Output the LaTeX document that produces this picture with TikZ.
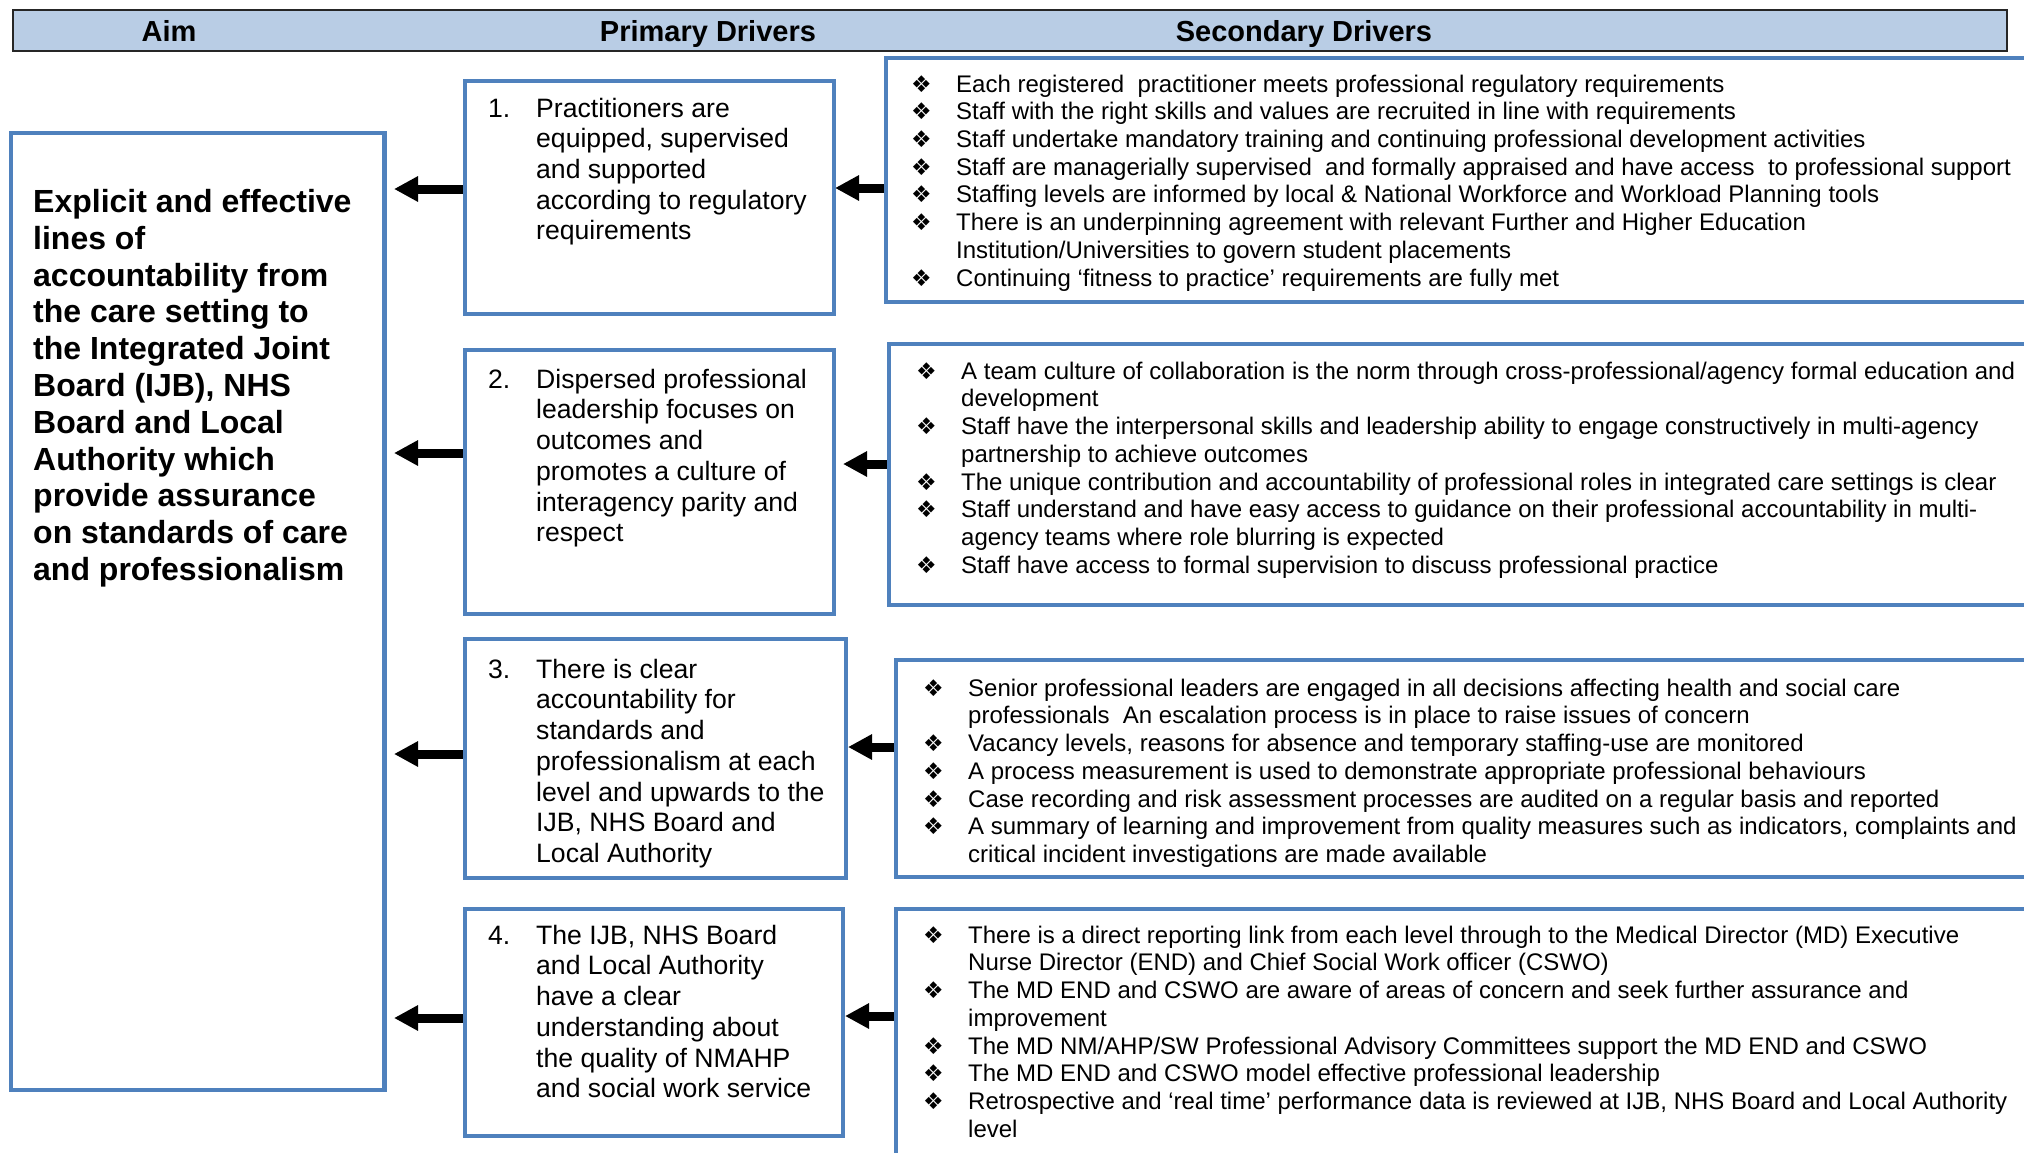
\documentclass[tikz,border=0pt]{standalone}
\usepackage{fontspec}
\setmainfont{Liberation Sans}
\newfontfamily\dvsans{DejaVu Sans}
\usetikzlibrary{arrows.meta,calc}
\definecolor{boxblue}{HTML}{4F81BD}
\definecolor{headfill}{HTML}{B9CDE5}
\newcommand{\bul}{\makebox[45pt][l]{\dvsans\fontsize{23}{23}\selectfont ❖}}
\newcommand{\cont}{\hspace*{45pt}}
\newcommand{\pnum}[1]{\makebox[48pt][l]{#1}}
\newcommand{\pcont}{\hspace*{48pt}}
\pgfdeclarelayer{bg}
\pgfsetlayers{bg,main}
\begin{document}
\begin{tikzpicture}[x=1pt,y=-1pt,
  bluebox/.style={draw=boxblue, line width=4.5pt, fill=white, rectangle, inner sep=0pt, outer sep=0pt, anchor=north west},
  sectext/.style={anchor=north west, inner sep=0pt, align=left, font=\fontsize{24}{27.7}\selectfont},
  primtext/.style={anchor=north west, inner sep=0pt, align=left, font=\fontsize{26.6}{30.7}\selectfont},
  aimtext/.style={anchor=north west, inner sep=0pt, align=left, font=\bfseries\fontsize{32}{36.8}\selectfont},
  headtext/.style={anchor=base, inner sep=0pt, font=\bfseries\fontsize{29}{34}\selectfont},
  arr/.style={line width=9pt, -{Triangle[length=24pt,width=24pt]}},
]
\useasboundingbox (0,0) rectangle (2024,1152);
\clip (0,0) rectangle (2024,1152);

% header bar
\node[draw=black!85, line width=2pt, fill=headfill, minimum width=1994.5pt, minimum height=41pt,
      anchor=north west, inner sep=0pt, outer sep=0pt] (head) at (12.5,10) {};
\node[headtext] (haim) at (169,41) {Aim};
\node[headtext] (hpri) at (708,41) {Primary Drivers};
\node[headtext] (hsec) at (1304,41) {Secondary Drivers};

% aim box
\node[bluebox, minimum width=373.5pt, minimum height=957pt] (aim) at (11,133) {};
\node[aimtext] (aimt) at (33,186.5) {\strut Explicit and effective\\ lines of\\ accountability from\\ the care setting to\\ the Integrated Joint\\ Board (IJB), NHS\\ Board and Local\\ Authority which\\ provide assurance\\ on standards of care\\ and professionalism};

% primary boxes
\node[bluebox, minimum width=369pt, minimum height=233pt] (p1) at (465,81) {};
\node[bluebox, minimum width=369pt, minimum height=264pt] (p2) at (465,350) {};
\node[bluebox, minimum width=381pt, minimum height=239pt] (p3) at (465,639) {};
\node[bluebox, minimum width=378pt, minimum height=227pt] (p4) at (465,909) {};

\node[primtext] (p1t) at (488,95.5) {\strut\pnum{1.}Practitioners are\\ \pcont equipped, supervised\\ \pcont and supported\\ \pcont according to regulatory\\ \pcont requirements};
\node[primtext] (p2t) at (488,366.5) {\strut\pnum{2.}Dispersed professional\\ \pcont leadership focuses on\\ \pcont outcomes and\\ \pcont promotes a culture of\\ \pcont interagency parity and\\ \pcont respect};
\node[primtext] (p3t) at (488,656.5) {\strut\pnum{3.}There is clear\\ \pcont accountability for\\ \pcont standards and\\ \pcont professionalism at each\\ \pcont level and upwards to the\\ \pcont IJB, NHS Board and\\ \pcont Local Authority};
\node[primtext] (p4t) at (488,922.5) {\strut\pnum{4.}The IJB, NHS Board\\ \pcont and Local Authority\\ \pcont have a clear\\ \pcont understanding about\\ \pcont the quality of NMAHP\\ \pcont and social work service};

% secondary boxes
\node[bluebox, minimum width=1160pt, minimum height=244pt] (s1) at (886,58) {};
\node[bluebox, minimum width=1160pt, minimum height=261pt] (s2) at (889,344) {};
\node[bluebox, minimum width=1160pt, minimum height=217pt] (s3) at (896,660) {};
\node[bluebox, minimum width=1160pt, minimum height=270pt] (s4) at (896,909) {};

\node[sectext] (s1t) at (911,72.6) {\strut\bul Each registered\ \ practitioner meets professional regulatory requirements\\
\bul Staff with the right skills and values are recruited in line with requirements\\
\bul Staff undertake mandatory training and continuing professional development activities\\
\bul Staff are managerially supervised\ \ and formally appraised and have access\ \ to professional support\\
\bul Staffing levels are informed by local \& National Workforce and Workload Planning tools\\
\bul There is an underpinning agreement with relevant Further and Higher Education\\
\cont Institution/Universities to govern student placements\\
\bul Continuing ‘fitness to practice’ requirements are fully met};

\node[sectext] (s2t) at (916,359.6) {\strut\bul A team culture of collaboration is the norm through cross-professional/agency formal education and\\
\cont development\\
\bul Staff have the interpersonal skills and leadership ability to engage constructively in multi-agency\\
\cont partnership to achieve outcomes\\
\bul The unique contribution and accountability of professional roles in integrated care settings is clear\\
\bul Staff understand and have easy access to guidance on their professional accountability in multi-\\
\cont agency teams where role blurring is expected\\
\bul Staff have access to formal supervision to discuss professional practice};

\node[sectext] (s3t) at (923,676.6) {\strut\bul Senior professional leaders are engaged in all decisions affecting health and social care\\
\cont professionals\ \ An escalation process is in place to raise issues of concern\\
\bul Vacancy levels, reasons for absence and temporary staffing-use are monitored\\
\bul A process measurement is used to demonstrate appropriate professional behaviours\\
\bul Case recording and risk assessment processes are audited on a regular basis and reported\\
\bul A summary of learning and improvement from quality measures such as indicators, complaints and\\
\cont critical incident investigations are made available};

\node[sectext] (s4t) at (923,923.6) {\strut\bul There is a direct reporting link from each level through to the Medical Director (MD) Executive\\
\cont Nurse Director (END) and Chief Social Work officer (CSWO)\\
\bul The MD END and CSWO are aware of areas of concern and seek further assurance and\\
\cont improvement\\
\bul The MD NM/AHP/SW Professional Advisory Committees support the MD END and CSWO\\
\bul The MD END and CSWO model effective professional leadership\\
\bul Retrospective and ‘real time’ performance data is reviewed at IJB, NHS Board and Local Authority\\
\cont level};

% arrow tips
\coordinate (a1) at ($(aim.east |- 0,189)+(9.5,0)$);
\coordinate (a2) at ($(aim.east |- 0,453)+(9.5,0)$);
\coordinate (a3) at ($(aim.east |- 0,754)+(9.5,0)$);
\coordinate (a4) at ($(aim.east |- 0,1018)+(9.5,0)$);
\coordinate (b1) at ($(p1.east |- 0,188)+(1,0)$);
\coordinate (b2) at ($(p2.east |- 0,464)+(9,0)$);
\coordinate (b3) at ($(p3.east |- 0,747)+(2,0)$);
\coordinate (b4) at ($(p4.east |- 0,1016)+(2,0)$);

\begin{pgfonlayer}{bg}
\fill[white] (0,0) rectangle (2024,1152);
\draw[arr] (p1.west |- a1) -- (a1);
\draw[arr] (p2.west |- a2) -- (a2);
\draw[arr] (p3.west |- a3) -- (a3);
\draw[arr] (p4.west |- a4) -- (a4);
\draw[arr] (s1.west |- b1) -- (b1);
\draw[arr] (s2.west |- b2) -- (b2);
\draw[arr] (s3.west |- b3) -- (b3);
\draw[arr] (s4.west |- b4) -- (b4);
\end{pgfonlayer}
\end{tikzpicture}
\end{document}
